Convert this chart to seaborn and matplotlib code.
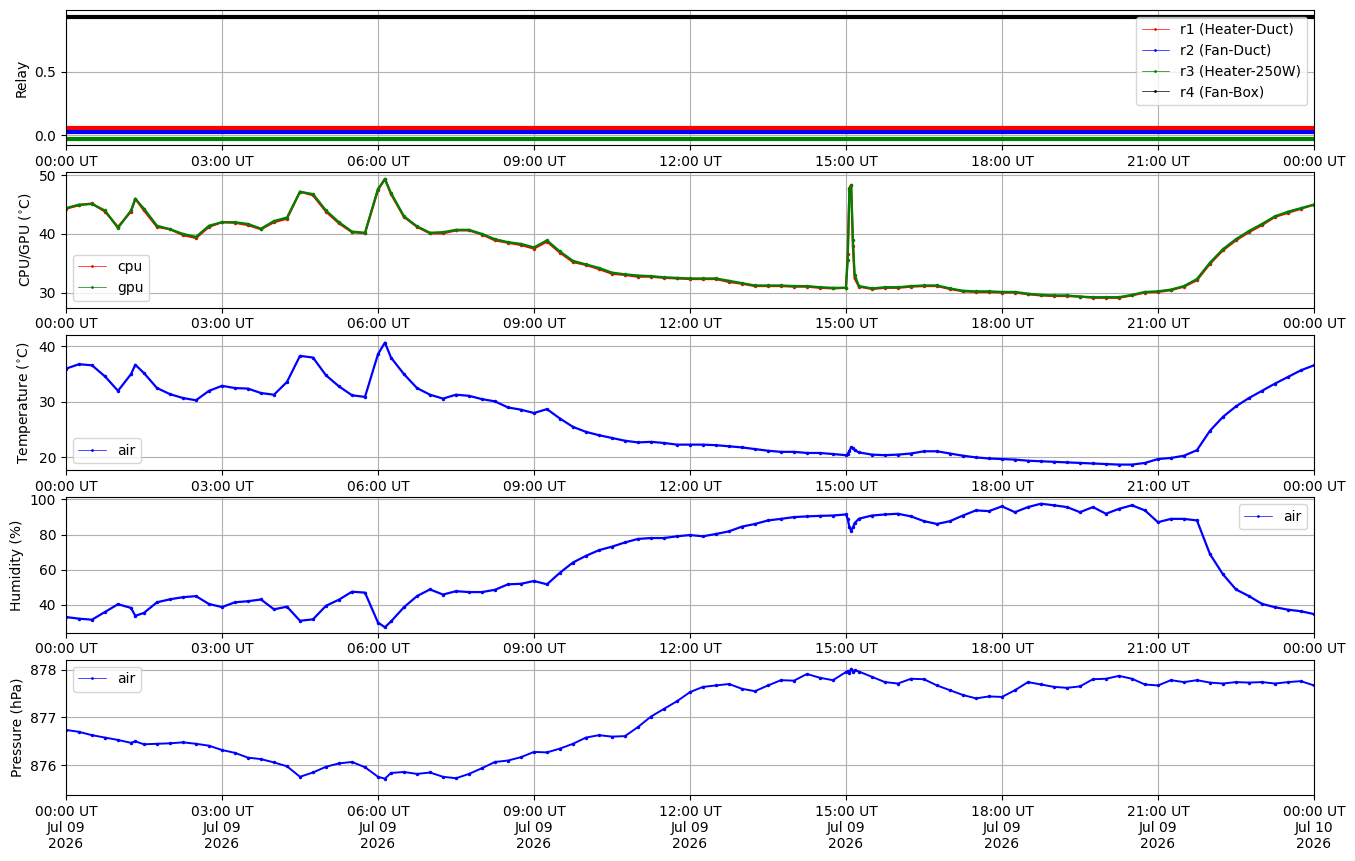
import pandas as pd
import matplotlib
matplotlib.use("Agg")
import matplotlib.pyplot as plt
import matplotlib.dates as mdates
import seaborn as sns

day = pd.Timestamp("2026-07-09")

# sample times in minutes after 00:00 UT (quarter hours plus a few extra reads)
minutes = sorted(list(range(0, 1441, 15)) + [80, 368, 902, 904, 906, 908, 910])

relay_names = ["r1 (Heater-Duct)", "r2 (Fan-Duct)", "r3 (Heater-250W)", "r4 (Fan-Box)"]
relay_colors = ["red", "blue", "green", "black"]
relay_levels = [0.06, 0.03, -0.03, 0.93]
relay_span = [0, 1440]

cpu = [
    44.3, 44.9, 45.2, 43.8,
    41.2, 43.8, 46.0, 44.0, 41.2,
    40.8, 39.8, 39.3, 41.2,
    42.0, 41.9, 41.5, 40.8,
    42.0, 42.6, 47.2, 46.6,
    43.8, 41.8, 40.3, 40.1,
    47.5, 49.4, 46.8, 42.9, 41.2,
    40.1, 40.1, 40.6, 40.6,
    39.9, 38.9, 38.5, 38.1,
    37.5, 38.7, 36.8, 35.2,
    34.7, 34.0, 33.2, 33.0,
    32.7, 32.7, 32.5, 32.4,
    32.3, 32.3, 32.3, 31.8,
    31.5, 31.1, 31.1, 31.1,
    31.0, 31.0, 30.8, 30.7,
    30.8, 36.5, 47.8, 48.3, 38.0, 32.4, 31.0, 30.6, 30.8,
    30.8, 31.0, 31.1, 31.1,
    30.6, 30.2, 30.1, 30.1,
    30.0, 30.0, 29.7, 29.5,
    29.4, 29.4, 29.3, 29.1,
    29.1, 29.1, 29.5, 30.0,
    30.1, 30.4, 31.0, 32.1,
    34.9, 37.2, 38.9, 40.3,
    41.5, 42.9, 43.6, 44.3,
    45.0,
]

gpu = [
    44.4, 45.0, 45.1, 44.0,
    41.0, 44.0, 46.0, 44.3, 41.4,
    40.8, 40.0, 39.5, 41.4,
    42.0, 42.0, 41.7, 40.9,
    42.2, 42.8, 47.2, 46.8,
    44.0, 42.0, 40.4, 40.2,
    47.7, 49.3, 47.0, 43.0, 41.3,
    40.2, 40.3, 40.7, 40.7,
    40.0, 39.1, 38.6, 38.3,
    37.7, 38.9, 37.0, 35.4,
    34.8, 34.2, 33.4, 33.1,
    32.9, 32.8, 32.6, 32.5,
    32.4, 32.4, 32.4, 32.0,
    31.6, 31.2, 31.2, 31.2,
    31.1, 31.1, 30.9, 30.8,
    30.8, 35.5, 47.5, 48.3, 39.0, 33.0, 31.1, 30.7, 30.9,
    30.9, 31.1, 31.2, 31.2,
    30.7, 30.3, 30.2, 30.2,
    30.1, 30.1, 29.8, 29.6,
    29.5, 29.5, 29.3, 29.2,
    29.2, 29.2, 29.6, 30.1,
    30.2, 30.5, 31.1, 32.3,
    35.1, 37.4, 39.1, 40.5,
    41.7, 43.0, 43.8, 44.4,
    45.0,
]

air_temp = [
    36.0, 36.8, 36.6, 34.6,
    32.0, 35.0, 36.7, 35.2, 32.5,
    31.4, 30.7, 30.3, 32.0,
    32.9, 32.5, 32.4, 31.6,
    31.3, 33.6, 38.3, 38.0,
    34.8, 32.8, 31.2, 30.9,
    38.6, 40.7, 38.0, 35.0, 32.5,
    31.3, 30.6, 31.3, 31.1,
    30.5, 30.1, 29.0, 28.6,
    28.0, 28.7, 27.0, 25.5,
    24.6, 24.0, 23.5, 23.0,
    22.7, 22.8, 22.6, 22.3,
    22.3, 22.3, 22.2, 22.0,
    21.8, 21.5, 21.2, 21.0,
    21.0, 20.8, 20.8, 20.6,
    20.4, 20.6, 21.2, 21.8, 21.7, 21.3, 20.9, 20.5, 20.4,
    20.5, 20.7, 21.1, 21.1,
    20.7, 20.3, 20.0, 19.8,
    19.7, 19.6, 19.4, 19.3,
    19.2, 19.1, 19.0, 18.9,
    18.8, 18.7, 18.7, 19.0,
    19.7, 19.9, 20.3, 21.3,
    24.8, 27.3, 29.2, 30.7,
    32.0, 33.3, 34.5, 35.7,
    36.6,
]

air_hum = [
    33.1, 32.2, 31.6, 36.0,
    40.4, 38.3, 33.8, 35.5, 41.5,
    43.2, 44.4, 45.0, 40.5,
    38.8, 41.5, 42.1, 43.1,
    37.5, 39.0, 31.0, 31.8,
    39.5, 43.0, 47.5, 47.0,
    30.0, 27.3, 30.6, 38.7, 45.0,
    48.8, 45.9, 47.8, 47.3,
    47.3, 48.6, 51.7, 52.0,
    53.6, 51.7, 58.3, 64.1,
    67.9, 71.1, 73.1, 75.5,
    77.5, 78.0, 78.0, 79.0,
    79.7, 79.0, 80.3, 81.8,
    84.5, 86.0, 88.0, 88.9,
    89.9, 90.3, 90.6, 90.8,
    91.4, 89.0, 84.0, 82.2, 84.0, 86.5, 89.0, 90.8, 91.4,
    91.8, 90.3, 87.6, 86.0,
    87.6, 90.8, 93.7, 93.3,
    96.0, 92.7, 95.6, 97.5,
    96.6, 95.6, 92.7, 95.6,
    91.8, 94.6, 96.6, 93.7,
    87.0, 88.9, 88.9, 88.0,
    68.9, 57.4, 48.8, 45.0,
    40.6, 38.7, 37.3, 36.4,
    34.8,
]

air_pres = [
    876.74, 876.70, 876.63, 876.58,
    876.53, 876.47, 876.50, 876.44, 876.45,
    876.46, 876.48, 876.45, 876.41,
    876.32, 876.26, 876.16, 876.13,
    876.06, 875.98, 875.76, 875.85,
    875.97, 876.04, 876.07, 875.96,
    875.76, 875.72, 875.84, 875.86, 875.82,
    875.85, 875.76, 875.73, 875.82,
    875.94, 876.07, 876.10, 876.17,
    876.28, 876.27, 876.35, 876.45,
    876.58, 876.63, 876.60, 876.61,
    876.80, 877.02, 877.18, 877.34,
    877.53, 877.64, 877.67, 877.70,
    877.60, 877.55, 877.67, 877.78,
    877.77, 877.91, 877.83, 877.78,
    877.95, 877.97, 877.93, 878.02, 877.96, 877.99, 877.96, 877.85, 877.74,
    877.71, 877.81, 877.80, 877.67,
    877.57, 877.47, 877.40, 877.44,
    877.43, 877.57, 877.74, 877.69,
    877.64, 877.62, 877.65, 877.80,
    877.81, 877.87, 877.81, 877.69,
    877.67, 877.78, 877.74, 877.78,
    877.73, 877.71, 877.74, 877.73,
    877.74, 877.71, 877.74, 877.76,
    877.67,
]

times = day + pd.to_timedelta(minutes, unit="min")
span = day + pd.to_timedelta(relay_span, unit="min")

fig, axes = plt.subplots(5, 1, figsize=(13.55, 8.61), dpi=100)
fig.subplots_adjust(left=0.0487, right=0.9697, top=0.9884, bottom=0.0767, hspace=0.2)

dots = dict(marker="o", markersize=2.5, markeredgewidth=0, errorbar=None)


def thin_legend(ax, loc):
    leg = ax.legend(loc=loc)
    for h in leg.get_lines():
        h.set_linewidth(0.5)
        h.set_markersize(2)


# Relay
ax = axes[0]
for name, col, lvl in zip(relay_names, relay_colors, relay_levels):
    sns.lineplot(x=span, y=[lvl, lvl], ax=ax, color=col, label=name,
                 linewidth=3, **dots)
ax.set_ylim(-0.078, 0.984)
ax.set_ylabel("Relay")
thin_legend(ax, "upper right")

# CPU / GPU
ax = axes[1]
sns.lineplot(x=times, y=cpu, ax=ax, color="red", label="cpu", linewidth=1.6, **dots)
sns.lineplot(x=times, y=gpu, ax=ax, color="green", label="gpu", linewidth=1.6, **dots)
ax.set_ylim(27.4, 50.5)
ax.set_yticks([30, 40, 50])
ax.set_ylabel(r"CPU/GPU ($^{\circ}$C)")
thin_legend(ax, "lower left")

# Temperature
ax = axes[2]
sns.lineplot(x=times, y=air_temp, ax=ax, color="blue", label="air", linewidth=1.6, **dots)
ax.set_ylim(17.7, 42.1)
ax.set_yticks([20, 30, 40])
ax.set_ylabel(r"Temperature ($^{\circ}$C)")
thin_legend(ax, "lower left")

# Humidity
ax = axes[3]
sns.lineplot(x=times, y=air_hum, ax=ax, color="blue", label="air", linewidth=1.6, **dots)
ax.set_ylim(24.3, 101.2)
ax.set_yticks([40, 60, 80, 100])
ax.set_ylabel("Humidity (%)")
thin_legend(ax, "upper right")

# Pressure
ax = axes[4]
sns.lineplot(x=times, y=air_pres, ax=ax, color="blue", label="air", linewidth=1.4, **dots)
ax.set_ylim(875.38, 878.21)
ax.set_yticks([876, 877, 878])
ax.set_ylabel("Pressure (hPa)")
thin_legend(ax, "upper left")

for i, ax in enumerate(axes):
    ax.set_xlim(day, day + pd.Timedelta(days=1))
    ax.xaxis.set_major_locator(mdates.HourLocator(byhour=range(0, 24, 3)))
    fmt = "%H:%M UT\n%b %d\n%Y" if i == len(axes) - 1 else "%H:%M UT"
    ax.xaxis.set_major_formatter(mdates.DateFormatter(fmt))
    ax.set_xlabel("")
    ax.grid(True)

fig.savefig("out.png", dpi=100)
